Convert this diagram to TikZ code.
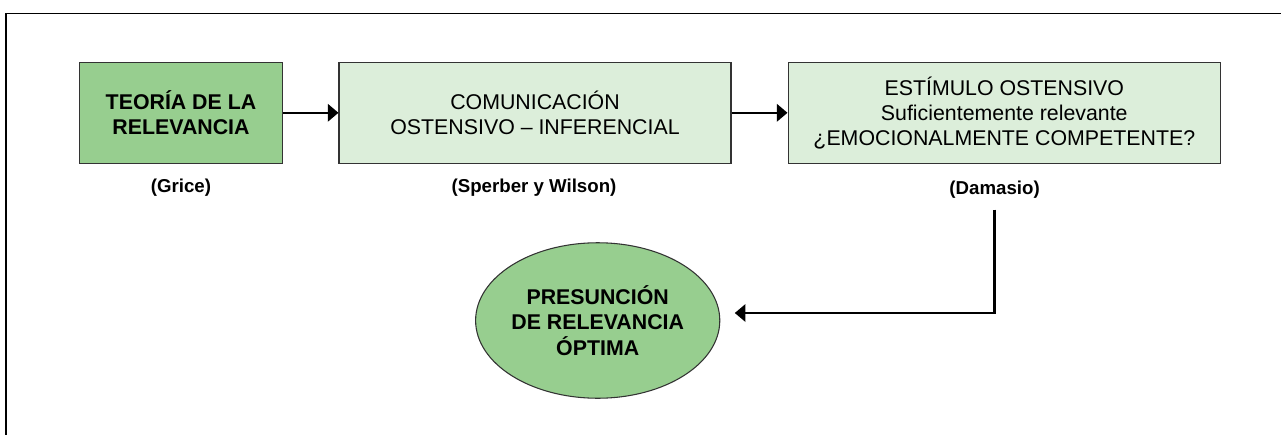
\documentclass[tikz,border=0pt]{standalone}
\usepackage{fontspec}
\setmainfont{Liberation Sans}
\usetikzlibrary{arrows.meta,shapes.geometric}

\definecolor{verdeoscuro}{RGB}{151,206,143}
\definecolor{verdeclaro}{RGB}{220,238,218}
\definecolor{borde}{RGB}{51,51,51}

\begin{document}
\begin{tikzpicture}[x=0.75pt,y=-0.75pt,
		caja/.style={draw=borde,line width=0.8pt,minimum height=75.75pt,align=center,inner sep=0pt,
			font=\fontsize{16}{18.75}\selectfont},
		autor/.style={font=\fontsize{14}{16}\selectfont\bfseries,inner sep=0pt},
		flecha/.style={line width=1.9pt,-{Triangle[length=8pt,width=13pt]}}]
		\clip (0,0) rectangle (1281,435);
		% marco
		\draw[line width=1pt] (6,13.3) rectangle (1300,460);
		% cajas de arriba
		\node[caja,fill=verdeoscuro,minimum width=152.5pt,font=\fontsize{16}{18.75}\selectfont\bfseries]
			(teoria) at (181,112.8) {TEORÍA DE LA\\RELEVANCIA};
		\node[caja,fill=verdeclaro,minimum width=294pt]
			(comunicacion) at (535,112.8) {COMUNICACIÓN\\OSTENSIVO – INFERENCIAL};
		\node[caja,fill=verdeclaro,minimum width=324.4pt]
			(estimulo) at (1004.3,112.8) {ESTÍMULO OSTENSIVO\\Suficientemente relevante\\¿EMOCIONALMENTE COMPETENTE?};
		% autores
		\node[autor] (grice) at (181,188) {(Grice)};
		\node[autor] (sperber) at (534,188) {(Sperber y Wilson)};
		\node[autor] (damasio) at (994.6,190) {(Damasio)};
		% elipse
		\node[ellipse,draw=borde,line width=0.8pt,fill=verdeoscuro,minimum width=175pt,minimum height=116.6pt,
			align=center,inner sep=0pt,font=\fontsize{16}{19}\selectfont\bfseries]
			(presuncion) at (597.7,320.5) {PRESUNCIÓN\\DE RELEVANCIA\\ÓPTIMA};
		\coordinate (llegada) at (734.8,313);
		% flechas
		\draw[flecha] (teoria) -- (comunicacion);
		\draw[flecha] (comunicacion) -- (estimulo);
		\draw[flecha] ([yshift=-8pt]damasio.south) |- (llegada);
	\end{tikzpicture}
\end{document}
